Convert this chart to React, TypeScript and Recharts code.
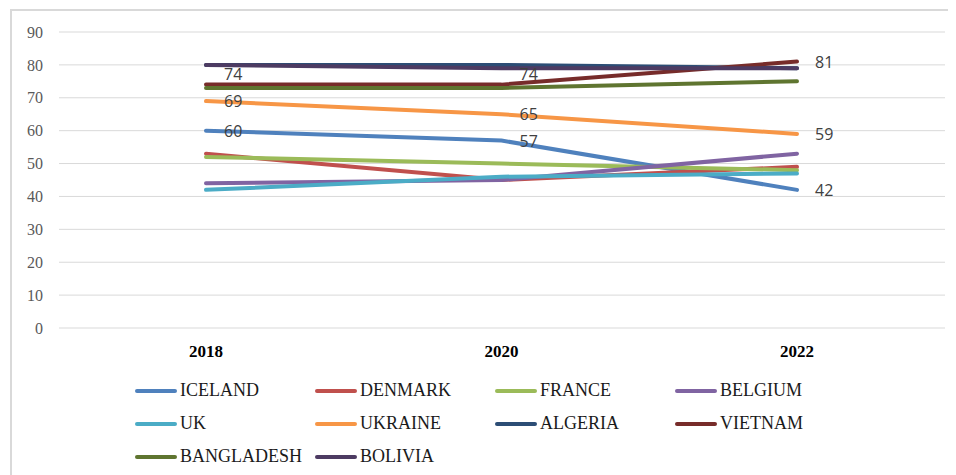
import { CartesianGrid, LabelList, Line, LineChart, XAxis, YAxis } from "recharts";

const years = ["2018", "2020", "2022"];
const yTicks = [0, 10, 20, 30, 40, 50, 60, 70, 80, 90];

const iceland = [60, 57, 42];
const denmark = [53, 45, 49];
const france = [52, 50, 48];
const belgium = [44, 45, 53];
const uk = [42, 46, 47];
const ukraine = [69, 65, 59];
const algeria = [80, 80, 79];
const vietnam = [74, 74, 81];
const bangladesh = [73, 73, 75];
const bolivia = [80, 79, 79];

const series = [
  { key: "ICELAND", values: iceland, color: "#4F81BD", labels: true },
  { key: "DENMARK", values: denmark, color: "#C0504D", labels: false },
  { key: "FRANCE", values: france, color: "#9BBB59", labels: false },
  { key: "BELGIUM", values: belgium, color: "#8064A2", labels: false },
  { key: "UK", values: uk, color: "#4BACC6", labels: false },
  { key: "UKRAINE", values: ukraine, color: "#F79646", labels: true },
  { key: "ALGERIA", values: algeria, color: "#2C4D75", labels: false },
  { key: "VIETNAM", values: vietnam, color: "#772C2A", labels: true },
  { key: "BANGLADESH", values: bangladesh, color: "#5F7530", labels: false },
  { key: "BOLIVIA", values: bolivia, color: "#4D3B62", labels: false }
];

const SERIF = "'Liberation Serif', 'Times New Roman', Times, serif";

// vertical nudge for labels that would sit on top of other lines
const labelLift: Record<string, number[]> = { VIETNAM: [-11, -11, 0] };

const data = years.map((year, i) => {
  const row: Record<string, string | number> = { year };
  series.forEach((s) => {
    row[s.key] = s.values[i];
  });
  return row;
});

function makeLabel(key: string) {
  return (props: any) => {
    const { x, y, value, index } = props;
    const dy = labelLift[key] ? labelLift[key][index] : 0;
    return (
      <text
        x={x + 18}
        y={y + dy}
        dominantBaseline="central"
        fill="#404040"
        style={{ fontFamily: "'Open Sans', sans-serif", fontSize: 16 }}
      >
        {value}
      </text>
    );
  };
}

function ChartLegend() {
  return (
    <div
      style={{
        display: "grid",
        gridTemplateColumns: "repeat(4, 180px)",
        gridAutoRows: "33px",
        marginLeft: 123,
        paddingTop: 3
      }}
    >
      {series.map((s) => (
        <div key={s.key} style={{ display: "flex", alignItems: "center" }}>
          <span
            style={{
              display: "inline-block",
              width: 42,
              height: 4,
              borderRadius: 2,
              background: s.color,
              marginRight: 3
            }}
          />
          <span style={{ fontFamily: SERIF, fontSize: 18, color: "#1a1a1a", whiteSpace: "nowrap" }}>{s.key}</span>
        </div>
      ))}
    </div>
  );
}

export default function App() {
  return (
    <div
      style={{
        margin: "1px 0 0 2px",
        width: 944,
        height: 464,
        borderTop: "2px solid #d9d9d9",
        borderLeft: "2px solid #d9d9d9",
        background: "#fff",
        fontFamily: SERIF
      }}
    >
      <LineChart
        width={944}
        height={360}
        data={data}
        margin={{ top: 21, right: 11, left: 0, bottom: 13 }}
        style={{ fontFamily: SERIF }}
      >
        <CartesianGrid vertical={false} stroke="#d9d9d9" strokeWidth={1} />
        <XAxis
          dataKey="year"
          axisLine={false}
          tickLine={false}
          padding={{ left: 147, right: 148 }}
          height={30}
          tickMargin={11}
          tick={{ fill: "#000", fontSize: 17, fontWeight: "bold", style: { fontFamily: SERIF } }}
        />
        <YAxis
          domain={[0, 90]}
          ticks={yTicks}
          width={47}
          axisLine={false}
          tickLine={false}
          tickMargin={10}
          tick={{ fill: "#595959", fontSize: 16, style: { fontFamily: SERIF } }}
        />
        {series.map((s) => (
          <Line
            key={s.key}
            type="linear"
            dataKey={s.key}
            stroke={s.color}
            strokeWidth={4}
            strokeLinecap="round"
            dot={false}
            activeDot={false}
            isAnimationActive={false}
          >
            {s.labels && <LabelList dataKey={s.key} content={makeLabel(s.key)} />}
          </Line>
        ))}
      </LineChart>
      <ChartLegend />
    </div>
  );
}
